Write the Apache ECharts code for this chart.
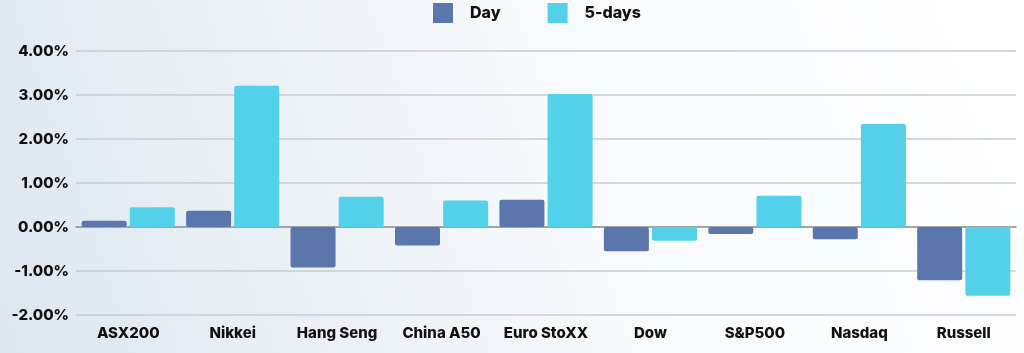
<!DOCTYPE html>
<html>
<head>
<meta charset="utf-8">
<script src="https://cdn.jsdelivr.net/npm/echarts@6/dist/echarts.min.js"></script>
<style>
  html, body { margin: 0; padding: 0; }
  #chart { width: 1024px; height: 353px; }
</style>
</head>
<body>
<div id="chart"></div>
<script>
const categories = ['ASX200', 'Nikkei', 'Hang Seng', 'China A50', 'Euro StoXX', 'Dow', 'S&P500', 'Nasdaq', 'Russell'];
const dayValues = [0.14, 0.37, -0.92, -0.42, 0.62, -0.55, -0.16, -0.28, -1.21];
const fiveDayValues = [0.45, 3.21, 0.69, 0.60, 3.02, -0.31, 0.71, 2.34, -1.56];
const yTicks = [-2, -1, 0, 1, 2, 3, 4];

const chart = echarts.init(document.getElementById('chart'));
const labelFont = { color: '#111', fontFamily: 'Inter', fontWeight: 800, fontSize: 15 };

const option = {
  animation: false,
  backgroundColor: new echarts.graphic.LinearGradient(0, 1, 1, 0, [
    { offset: 0, color: '#dde7ef' },
    { offset: 0.55, color: '#f7f9fc' },
    { offset: 1, color: '#ffffff' }
  ]),
  legend: {
    top: 3,
    left: 433,
    padding: 0,
    itemWidth: 20,
    itemHeight: 20,
    itemGap: 47,
    icon: 'rect',
    itemStyle: { borderRadius: 2 },
    textStyle: { ...labelFont, fontSize: 16, padding: [0, 0, 0, 12] },
    data: ['Day', '5-days']
  },
  grid: { left: 76, right: 8, top: 51, bottom: 38 },
  xAxis: {
    type: 'category',
    data: categories,
    axisTick: { show: false },
    axisLine: { onZero: true, lineStyle: { color: '#8f9296', width: 1.5 } },
    axisLabel: { ...labelFont, interval: 0, margin: 0, verticalAlign: 'top', padding: [11, 0, 0, 0] }
  },
  yAxis: {
    type: 'value',
    min: yTicks[0],
    max: yTicks[yTicks.length - 1],
    interval: 1,
    axisLine: { show: false },
    axisTick: { show: false },
    axisLabel: { ...labelFont, margin: 7, formatter: v => v.toFixed(2) + '%' },
    splitLine: { lineStyle: { color: '#c9ccd0', width: 1.5 } }
  },
  series: [
    {
      name: 'Day',
      type: 'bar',
      data: dayValues,
      barWidth: 45,
      barGap: '7%',
      itemStyle: { color: '#5a76ac', borderRadius: 2 }
    },
    {
      name: '5-days',
      type: 'bar',
      data: fiveDayValues,
      barWidth: 45,
      itemStyle: { color: '#53d0ea', borderRadius: 2 }
    }
  ]
};

chart.setOption(option);
</script>
</body>
</html>
